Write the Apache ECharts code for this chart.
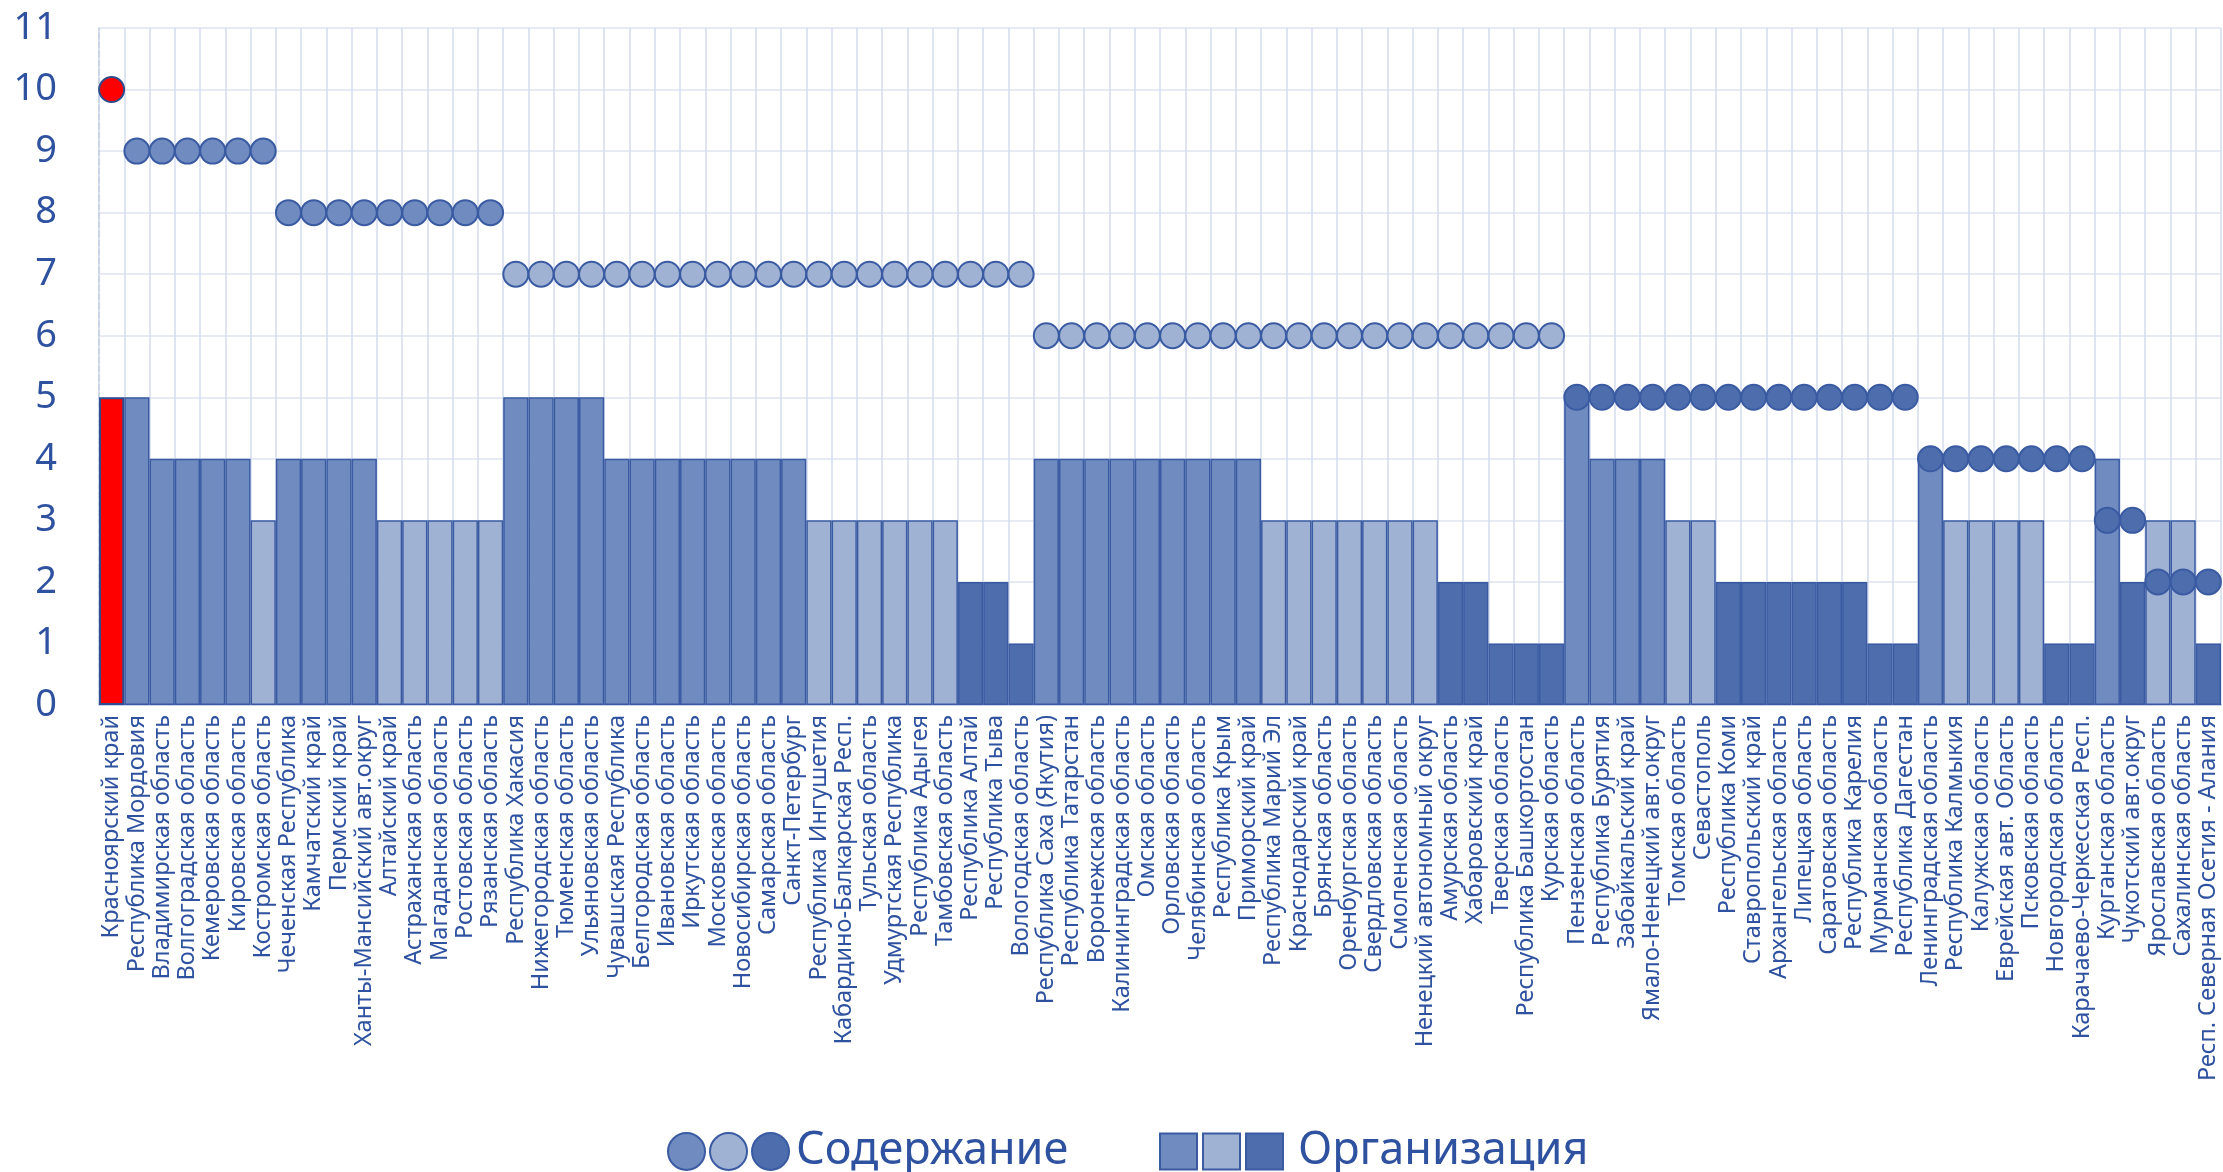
<!DOCTYPE html>
<html><head><meta charset="utf-8">
<script src="https://cdn.jsdelivr.net/npm/echarts@6/dist/echarts.min.js"></script>
<style>html,body{margin:0;padding:0;background:#fff}#c{width:2223px;height:1172px}</style>
</head><body><div id="c"></div>
<script>
const regions = ['Красноярский край','Республика Мордовия','Владимирская область','Волгоградская область','Кемеровская область','Кировская область','Костромская область','Чеченская Республика','Камчатский край','Пермский край','Ханты-Мансийский авт.округ','Алтайский край','Астраханская область','Магаданская область','Ростовская область','Рязанская область','Республика Хакасия','Нижегородская область','Тюменская область','Ульяновская область','Чувашская Республика','Белгородская область','Ивановская область','Иркутская область','Московская область','Новосибирская область','Самарская область','Санкт-Петербург','Республика Ингушетия','Кабардино-Балкарская Респ.','Тульская область','Удмуртская Республика','Республика Адыгея','Тамбовская область','Республика Алтай','Республика Тыва','Вологодская область','Республика Саха (Якутия)','Республика Татарстан','Воронежская область','Калининградская область','Омская область','Орловская область','Челябинская область','Республика Крым','Приморский край','Республика Марий Эл','Краснодарский край','Брянская область','Оренбургская область','Свердловская область','Смоленская область','Ненецкий автономный округ','Амурская область','Хабаровский край','Тверская область','Республика Башкортостан','Курская область','Пензенская область','Республика Бурятия','Забайкальский край','Ямало-Ненецкий авт.округ','Томская область','Севастополь','Республика Коми','Ставропольский край','Архангельская область','Липецкая область','Саратовская область','Республика Карелия','Мурманская область','Республика Дагестан','Ленинградская область','Республика Калмыкия','Калужская область','Еврейская авт. Область','Псковская область','Новгородская область','Карачаево-Черкесская Респ.','Курганская область','Чукотский авт.округ','Ярославская область','Сахалинская область','Респ. Северная Осетия - Алания'];

// "Организация" (bars)
const organization = [5,5,4,4,4,4,3, 4,4,4,4,3,3,3,3,3, 5,5,5,5,4,4,4,4,4,4,4,4,3,3,3,3,3,3,2,2,1, 4,4,4,4,4,4,4,4,4,3,3,3,3,3,3,3,2,2,1,1,1, 5,4,4,4,3,3,2,2,2,2,2,2,1,1, 4,3,3,3,3,1,1, 4,2, 3,3,1];

// "Содержание" (dots)
const content = [10, 9,9,9,9,9,9, 8,8,8,8,8,8,8,8,8, 7,7,7,7,7,7,7,7,7,7,7,7,7,7,7,7,7,7,7,7,7, 6,6,6,6,6,6,6,6,6,6,6,6,6,6,6,6,6,6,6,6,6, 5,5,5,5,5,5,5,5,5,5,5,5,5,5, 4,4,4,4,4,4,4, 3,3, 2,2,2];

const highlighted = 'Красноярский край';
const legendContent = 'Содержание';
const legendOrg = 'Организация';

const MED = '#6F8BC0', LIGHT = '#A0B2D4', DARK = '#4D6DAD', EDGE = '#3A5BA2', RED = '#FF0000';
const TXT = '#2E52A0';
const FONT = 'Noto Sans';

const hi = regions.indexOf(highlighted);
const redStyle = {color: RED, borderColor: '#2D4D8E', borderWidth: 2};

const orgGroups = [
  {name: legendOrg + ' 1', color: MED, test: v => v >= 4},
  {name: legendOrg + ' 2', color: LIGHT, test: v => v === 3},
  {name: legendOrg, color: DARK, test: v => v <= 2}
];
const contGroups = [
  {name: legendContent + ' 1', color: MED, test: v => v >= 8},
  {name: legendContent + ' 2', color: LIGHT, test: v => v === 6 || v === 7},
  {name: legendContent, color: DARK, test: v => v <= 5}
];

const series = [];
orgGroups.forEach(g => {
  series.push({
    type: 'bar', name: g.name, barGap: '-100%', barCategoryGap: '0%',
    itemStyle: {color: g.color, borderColor: EDGE, borderWidth: 1.5},
    emphasis: {disabled: true},
    data: organization.map((v, i) => g.test(v) ? (i === hi ? {value: v, itemStyle: redStyle} : v) : '-')
  });
});
contGroups.forEach(g => {
  series.push({
    type: 'scatter', name: g.name, symbol: 'circle', symbolSize: 25, z: 5,
    itemStyle: {color: g.color, borderColor: EDGE, borderWidth: 2, opacity: 1},
    emphasis: {disabled: true},
    data: content.map((v, i) => g.test(v) ? (i === hi ? {value: v, itemStyle: redStyle} : v) : '-')
  });
});

const chart = echarts.init(document.getElementById('c'));
chart.setOption({
  backgroundColor: '#fff',
  animation: false,
  grid: {left: 99, right: 2, top: 28, bottom: 467},
  legend: [
    {
      data: contGroups.map(g => g.name), left: 662, top: 1124,
      icon: 'circle', itemWidth: 37, itemHeight: 38, itemGap: 3,
      formatter: n => n === legendContent ? n : '',
      textStyle: {fontSize: 45, color: TXT, fontFamily: FONT, padding: [0, 0, 0, 2]}
    },
    {
      data: orgGroups.map(g => g.name), left: 1154, top: 1124,
      icon: 'rect', itemWidth: 37, itemHeight: 36, itemGap: 4,
      formatter: n => n === legendOrg ? n : '',
      textStyle: {fontSize: 45, color: TXT, fontFamily: FONT, padding: [0, 0, 0, 10]}
    }
  ],
  xAxis: {
    type: 'category', data: regions,
    axisTick: {show: false},
    axisLine: {show: true, lineStyle: {color: '#C8D2E8', width: 2}},
    splitLine: {show: true, interval: 0, lineStyle: {color: '#D3DBEC', width: 1.5}},
    axisLabel: {interval: 0, rotate: 90, fontSize: 23.5, color: TXT, fontFamily: FONT, margin: 10}
  },
  yAxis: {
    type: 'value', min: 0, max: 11, interval: 1,
    axisLine: {show: true, lineStyle: {color: '#C3CDE5', type: 'dashed', width: 1.5}},
    axisTick: {show: false},
    splitLine: {show: true, lineStyle: {color: '#DCE3F1', width: 1.5}},
    axisLabel: {fontSize: 38, color: TXT, fontFamily: FONT, margin: 42}
  },
  series
});
</script></body></html>
